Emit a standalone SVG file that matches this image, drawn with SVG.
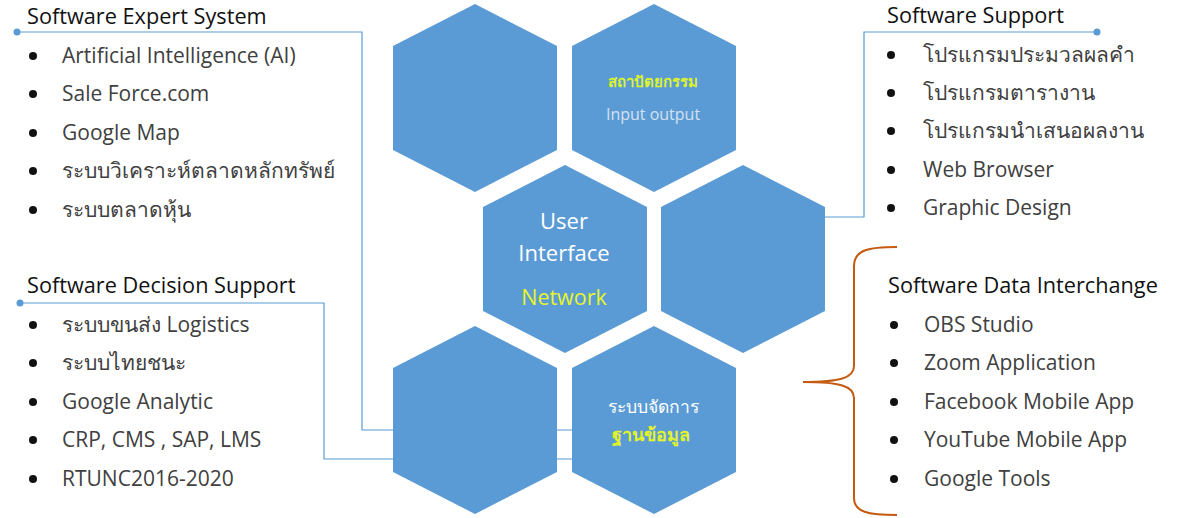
<svg xmlns="http://www.w3.org/2000/svg" width="1191" height="518" viewBox="0 0 1191 518">
<defs>
<style>
.hex{fill:#5B9BD5}
.conn{fill:none;stroke:#5B9BD5;stroke-width:1.2}
.dot{fill:#5B9BD5}
.brace{fill:none;stroke:#C55A11;stroke-width:2}
.title{font-family:"Open Sans","Noto Sans",sans-serif;font-size:21.7px;fill:#111}
.item{font-family:"Open Sans","Noto Sans",sans-serif;font-size:21px;fill:#404040}
.bul{fill:#111}
.ht{font-family:"Open Sans","Noto Sans",sans-serif;text-anchor:middle}
</style>
<polygon id="hexshape" points="0,-94 82,-52 82,52 0,94 -82,52 -82,-52"/>
</defs>
<rect width="1191" height="518" fill="#FFFFFF"/>
<g id="connectors">
<path class="conn" d="M17,32 H362 V430 H572"/>
<circle class="dot" cx="17" cy="32" r="3.5"/>
<path class="conn" d="M20,303 H324 V459 H572"/>
<circle class="dot" cx="20" cy="303" r="3.5"/>
<path class="conn" d="M1097,32 H864 V217 H825"/>
<circle class="dot" cx="1097" cy="32" r="3.5"/>
<path class="brace" d="M897,247 C868,247 854,250 854,266 L854,366 C854,378 840,382 803,382 C840,382 854,386 854,398 L854,498 C854,512 868,515 897,515"/>
</g>
<g id="hex-top-left"><use href="#hexshape" class="hex" transform="translate(475,98)"/></g>
<g id="hex-top-right"><use href="#hexshape" class="hex" transform="translate(654,98)"/>
<text class="ht" x="653" y="87" font-size="15" font-weight="bold" fill="#DDF22E">สถาปัตยกรรม</text>
<text class="ht" x="653" y="120" font-size="16" fill="#D5E1F0">Input output</text></g>
<g id="hex-center"><use href="#hexshape" class="hex" transform="translate(565,259)"/>
<text class="ht" x="564" y="229" font-size="22" fill="#FFFFFF">User</text>
<text class="ht" x="564" y="261" font-size="22" fill="#FFFFFF">Interface</text>
<text class="ht" x="564" y="305" font-size="21.5" fill="#E8F52A">Network</text></g>
<g id="hex-middle-right"><use href="#hexshape" class="hex" transform="translate(743,259)"/></g>
<g id="hex-bottom-left"><use href="#hexshape" class="hex" transform="translate(475,420)"/></g>
<g id="hex-bottom-right"><use href="#hexshape" class="hex" transform="translate(654,420)"/>
<text class="ht" x="653" y="413" font-size="17.5" fill="#FFFFFF">ระบบจัดการ</text>
<text class="ht" x="651" y="441" font-size="18" font-weight="bold" fill="#E2F22C">ฐานข้อมูล</text></g>
<g id="expert-system">
<text class="title" x="27" y="24">Software Expert System</text>
<circle class="bul" cx="33" cy="56" r="4"/><text class="item" x="62" y="63">Artificial Intelligence (AI)</text>
<circle class="bul" cx="33" cy="94" r="4"/><text class="item" x="62" y="101">Sale Force.com</text>
<circle class="bul" cx="33" cy="133" r="4"/><text class="item" x="62" y="140">Google Map</text>
<circle class="bul" cx="33" cy="171" r="4"/><text class="item" x="62" y="178">ระบบวิเคราะห์ตลาดหลักทรัพย์</text>
<circle class="bul" cx="33" cy="210" r="4"/><text class="item" x="62" y="217">ระบบตลาดหุ้น</text>
</g>
<g id="decision-support">
<text class="title" x="27" y="293">Software Decision Support</text>
<circle class="bul" cx="33" cy="325" r="4"/><text class="item" x="62" y="332">ระบบขนส่ง Logistics</text>
<circle class="bul" cx="33" cy="363" r="4"/><text class="item" x="62" y="370">ระบบไทยชนะ</text>
<circle class="bul" cx="33" cy="402" r="4"/><text class="item" x="62" y="409">Google Analytic</text>
<circle class="bul" cx="33" cy="440" r="4"/><text class="item" x="62" y="447">CRP, CMS , SAP, LMS</text>
<circle class="bul" cx="33" cy="479" r="4"/><text class="item" x="62" y="486">RTUNC2016-2020</text>
</g>
<g id="software-support">
<text class="title" x="887" y="23">Software Support</text>
<circle class="bul" cx="891" cy="55" r="4"/><text class="item" x="923" y="62">โปรแกรมประมวลผลคำ</text>
<circle class="bul" cx="891" cy="93" r="4"/><text class="item" x="923" y="100">โปรแกรมตารางาน</text>
<circle class="bul" cx="891" cy="131" r="4"/><text class="item" x="923" y="138">โปรแกรมนำเสนอผลงาน</text>
<circle class="bul" cx="891" cy="170" r="4"/><text class="item" x="923" y="177">Web Browser</text>
<circle class="bul" cx="891" cy="208" r="4"/><text class="item" x="923" y="215">Graphic Design</text>
</g>
<g id="data-interchange">
<text class="title" x="888" y="293">Software Data Interchange</text>
<circle class="bul" cx="894" cy="325" r="4"/><text class="item" x="924" y="332">OBS Studio</text>
<circle class="bul" cx="894" cy="363" r="4"/><text class="item" x="924" y="370">Zoom Application</text>
<circle class="bul" cx="894" cy="402" r="4"/><text class="item" x="924" y="409">Facebook Mobile App</text>
<circle class="bul" cx="894" cy="440" r="4"/><text class="item" x="924" y="447">YouTube Mobile App</text>
<circle class="bul" cx="894" cy="479" r="4"/><text class="item" x="924" y="486">Google Tools</text>
</g>
</svg>
